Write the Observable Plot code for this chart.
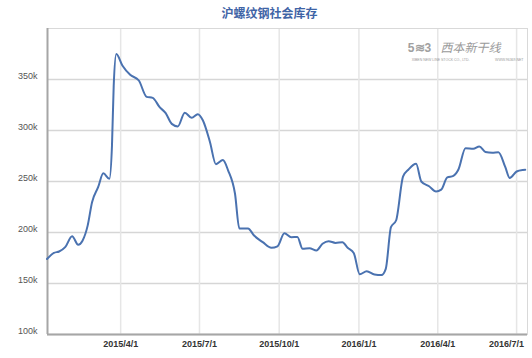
<!DOCTYPE html>
<html><head><meta charset="utf-8">
<script src="https://cdn.jsdelivr.net/npm/d3@7"></script>
<script src="https://cdn.jsdelivr.net/npm/@observablehq/plot@0.6"></script>
<style>html,body{margin:0;padding:0;background:#fff}</style>
</head><body><div id="chart"></div>
<script>
const title = "沪螺纹钢社会库存";
const dates = ["2015-01-06","2015-01-14","2015-01-20","2015-01-27","2015-02-04","2015-02-11","2015-02-16","2015-02-22","2015-02-27","2015-03-06","2015-03-12","2015-03-19","2015-03-22","2015-03-24","2015-03-27","2015-04-03","2015-04-12","2015-04-22","2015-05-01","2015-05-08","2015-05-16","2015-05-23","2015-05-30","2015-06-06","2015-06-14","2015-06-22","2015-06-29","2015-07-05","2015-07-13","2015-07-20","2015-07-28","2015-08-03","2015-08-11","2015-08-16","2015-08-26","2015-09-02","2015-09-12","2015-09-22","2015-09-29","2015-10-07","2015-10-15","2015-10-22","2015-10-28","2015-11-05","2015-11-13","2015-11-20","2015-11-27","2015-12-05","2015-12-13","2015-12-19","2015-12-26","2016-01-02","2016-01-10","2016-01-19","2016-01-27","2016-02-01","2016-02-07","2016-02-13","2016-02-21","2016-02-27","2016-03-07","2016-03-13","2016-03-22","2016-03-30","2016-04-05","2016-04-12","2016-04-19","2016-04-25","2016-05-03","2016-05-12","2016-05-19","2016-05-26","2016-06-03","2016-06-10","2016-06-18","2016-06-23","2016-07-01","2016-07-08","2016-07-11"];
// inventory, thousand tonnes
const values = [174,180,181.4,185.6,196.4,188,192,207,229.7,244.4,258,252.6,285,344,375,363.7,354.6,349,333,332,322.9,317,306.5,304,317.5,312.4,316,309.8,289,267,271,261,238,204,204,197,190.5,185,186.5,199.3,195.4,195.6,184,184.6,182.4,188.9,191.5,189.8,190.5,185,180,159,162,158.8,158.3,164.4,205.2,212,255,261.5,267.3,250,245.3,240.2,242,254,255.5,262,282.7,282,284.3,279,278.3,278.7,264,253.5,259.8,261.3,261.5];
const yTicks = [100,150,200,250,300,350];
const yTickLabels = ["100k","150k","200k","250k","300k","350k"];
const xTicks = ["2015-04-01","2015-07-01","2015-10-01","2016-01-01","2016-04-01","2016-07-01"];
const xTickLabels = ["2015/4/1","2015/7/1","2015/10/1","2016/1/1","2016/4/1","2016/7/1"];
const xDomain = ["2015-01-06T14:00Z","2016-07-13T14:00Z"];
const yDomain = [100,400];
const logoIcon = "5≋3";
const logoText = "西本新干线";
const logoSub1 = "XIBEN NEW LINE STOCK CO., LTD.";
const logoSub2 = "WWW.96369.NET";

const data = dates.map((d,i)=>({date:new Date(d), value:values[i]}));
const xTickDates = xTicks.map(d=>new Date(d));
const xLabelMap = new Map(xTickDates.map((d,i)=>[+d, xTickLabels[i]]));
const yLabelMap = new Map(yTicks.map((d,i)=>[d, yTickLabels[i]]));

const chart = Plot.plot({
  width:532, height:358,
  marginLeft:47, marginRight:5, marginTop:28, marginBottom:24,
  style:{fontFamily:"'Liberation Sans', Arial, sans-serif", fontSize:"9px", background:"#fff", overflow:"visible"},
  x:{type:"utc", domain:xDomain.map(d=>new Date(d)), label:null},
  y:{domain:yDomain, label:null},
  marks:[
    Plot.gridY(yTicks, {stroke:"#d6d6d6", strokeOpacity:1, strokeWidth:1.5}),
    Plot.gridX(xTickDates, {stroke:"#e6e6e6", strokeOpacity:1, strokeWidth:1.5}),
    Plot.frame({stroke:"#d9d9d9", strokeWidth:1}),
    Plot.ruleY([yDomain[0]], {stroke:"#a6a6a6", strokeWidth:2}),
    Plot.ruleX([new Date(xDomain[0])], {stroke:"#a6a6a6", strokeWidth:2}),
    Plot.axisY(yTicks, {label:null, tickSize:0, tickPadding:10, dy:-3, fill:"#555", tickFormat:d=>yLabelMap.get(d)}),
    Plot.axisX(xTickDates.slice(0,-1), {label:null, tickSize:0, tickPadding:6, fill:"#333", fontWeight:"bold", tickFormat:d=>xLabelMap.get(+d)}),
    Plot.axisX(xTickDates.slice(-1), {label:null, tickSize:0, tickPadding:6, dx:-10, fill:"#333", fontWeight:"bold", tickFormat:d=>xLabelMap.get(+d)}),
    Plot.line(data, {x:"date", y:"value", stroke:"#4a72b0", strokeWidth:2, curve:"monotone-x"}),
    Plot.text([title], {frameAnchor:"top", dx:-18, dy:-19, fontSize:12, fontWeight:"bold", fill:"#3f64a6", fontFamily:"'Noto Sans CJK SC', sans-serif"}),
    Plot.text([logoIcon], {frameAnchor:"top-right", dx:-108, dy:15, fontSize:12, fontWeight:"bold", fill:"#a0a0a0", textAnchor:"middle"}),
    Plot.text([logoText], {frameAnchor:"top-right", dx:-27, dy:15, fontSize:12, fill:"#9a9a9a", fontStyle:"italic", textAnchor:"end", fontFamily:"'Noto Sans CJK SC', sans-serif"}),
    Plot.text([logoSub1], {frameAnchor:"top-right", dx:-58, dy:30, fontSize:3.5, fill:"#999", textAnchor:"end"}),
    Plot.text([logoSub2], {frameAnchor:"top-right", dx:-4, dy:30, fontSize:3.5, fill:"#999", textAnchor:"end"})
  ]
});
document.getElementById("chart").appendChild(chart);
</script>
</body></html>
